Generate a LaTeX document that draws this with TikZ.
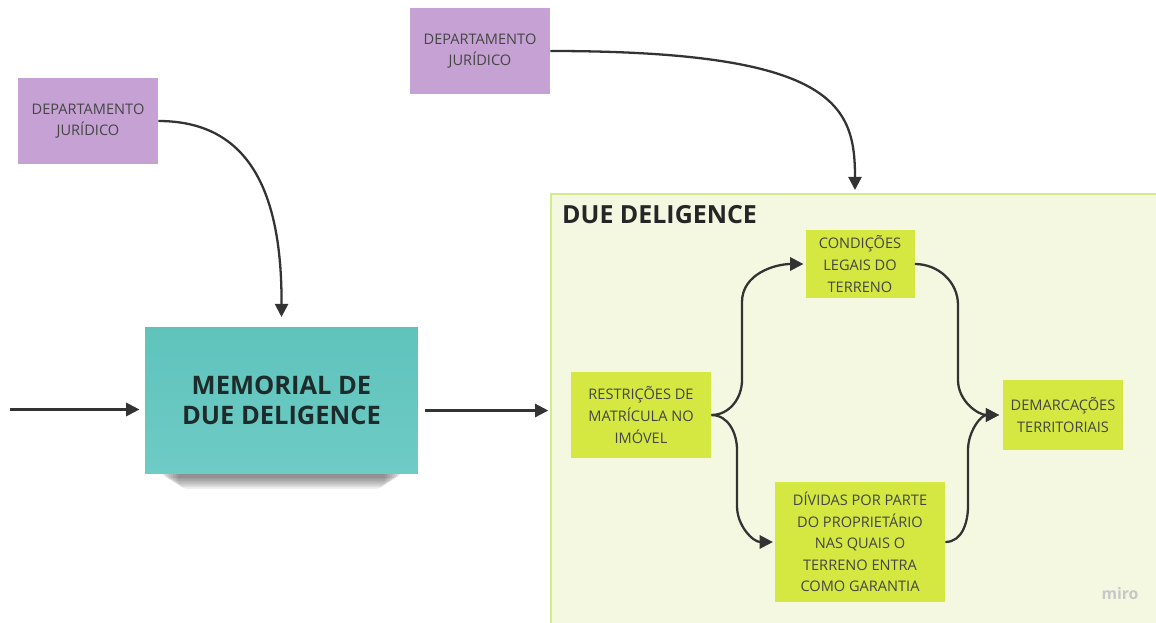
\documentclass[tikz,border=0pt]{standalone}
\usepackage{fontspec}
\setmainfont{Open Sans}
\usetikzlibrary{arrows.meta}
\definecolor{lilac}{HTML}{C6A2D4}
\definecolor{tealtop}{HTML}{5FC3BC}
\definecolor{tealbot}{HTML}{6ECBC5}
\definecolor{lime}{HTML}{D5E842}
\definecolor{framefill}{HTML}{F4F8E1}
\definecolor{frameline}{HTML}{D3EB8E}
\definecolor{ink}{HTML}{333333}
\definecolor{boxtext}{HTML}{454545}
\definecolor{memtext}{HTML}{1E2B2B}
\begin{document}
\begin{tikzpicture}[x=0.02cm,y=0.02cm,
  note/.style={rectangle, inner sep=0pt, align=center, text=boxtext,
    font=\fontsize{8.3}{12.3}\selectfont},
  dept/.style={note, fill=lilac, minimum width=2.8cm, minimum height=1.72cm},
  task/.style={note, fill=lime},
  flow/.style={draw=ink, line width=1.3pt, -{Triangle[length=7.5pt,width=7.5pt]}}
]
\useasboundingbox[fill=white] (0,0) rectangle (1156,-622);

% due diligence area
\node[rectangle, fill=framefill, draw=frameline, line width=1.2pt, inner sep=0pt,
  minimum width=12.3cm, minimum height=8.66cm, anchor=north west] (dd) at (550,-193) {};
\node[anchor=west, font=\fontsize{14.2}{16}\selectfont\bfseries, text=black!85] (ddtitle) at (556,-215) {DUE DELIGENCE};

% legal department notes
\node[dept] (dj1) at (88,-121) {DEPARTAMENTO\\JURÍDICO};
\node[dept] (dj2) at (480,-51) {DEPARTAMENTO\\JURÍDICO};

% memorial sticky note with soft shadow under its lower edge
\foreach \i in {1,...,8}{
  \fill[black, opacity=0.065, rounded corners=5pt]
    (158+2.5*\i,-462) rectangle (405-2.5*\i,-476-1.6*\i);
}
\node[rectangle, inner sep=0pt, minimum width=5.46cm, minimum height=2.94cm,
  top color=tealtop, bottom color=tealbot, align=center,
  font=\fontsize{14.5}{17}\selectfont\bfseries, text=memtext] (mem) at (281.5,-400.5)
  {MEMORIAL DE\\DUE DELIGENCE};

% process steps
\node[task, minimum width=2.8cm, minimum height=1.72cm] (rest) at (641,-415) {RESTRIÇÕES DE\\MATRÍCULA NO\\IMÓVEL};
\node[task, minimum width=2.18cm, minimum height=1.38cm] (cond) at (860,-264) {CONDIÇÕES\\LEGAIS DO\\TERRENO};
\node[task, minimum width=3.4cm, minimum height=2.4cm] (div) at (860,-542) {DÍVIDAS POR PARTE\\DO PROPRIETÁRIO\\NAS QUAIS O\\TERRENO ENTRA\\COMO GARANTIA};
\node[task, minimum width=2.4cm, minimum height=1.4cm] (dem) at (1063,-415) {DEMARCAÇÕES\\TERRITORIAIS};

\node[font=\fontsize{9}{10}\selectfont\bfseries, text=black!22] (miro) at (1120,-594) {miro};

% connectors
\coordinate (src) at (10,-409.5);
\coordinate (ddin) at (855,-190);
\draw[flow] (src) -- ([xshift=-3pt]mem.west |- src);
\draw[flow] ([xshift=4pt]mem.east |- dd.west) -- ([xshift=-1pt]dd.west);
\draw[flow] (dj1.east) .. controls (248,-121) and (282,-190) .. ([yshift=5.5pt]mem.north);
\draw[flow] (dj2.east) .. controls (835,-51) and (855,-105) .. (ddin);

\draw[flow] (rest.east) to[out=0,in=-90] (742,-380) -- (742,-302) to[out=90,in=180] ([xshift=-1pt]cond.west);
\draw[flow] (rest.east) to[out=0,in=90] (737,-450) -- (737,-506) to[out=-90,in=180] ([xshift=-1pt]div.west);
\draw[flow] (cond.east) to[out=0,in=90] (958,-305) -- (958,-380) to[out=-90,in=180] ([xshift=-2pt]dem.west);
\draw[flow] (div.east) to[out=0,in=-90] (968,-506) -- (968,-450) to[out=90,in=180] ([xshift=-2pt]dem.west);
\end{tikzpicture}
\end{document}
